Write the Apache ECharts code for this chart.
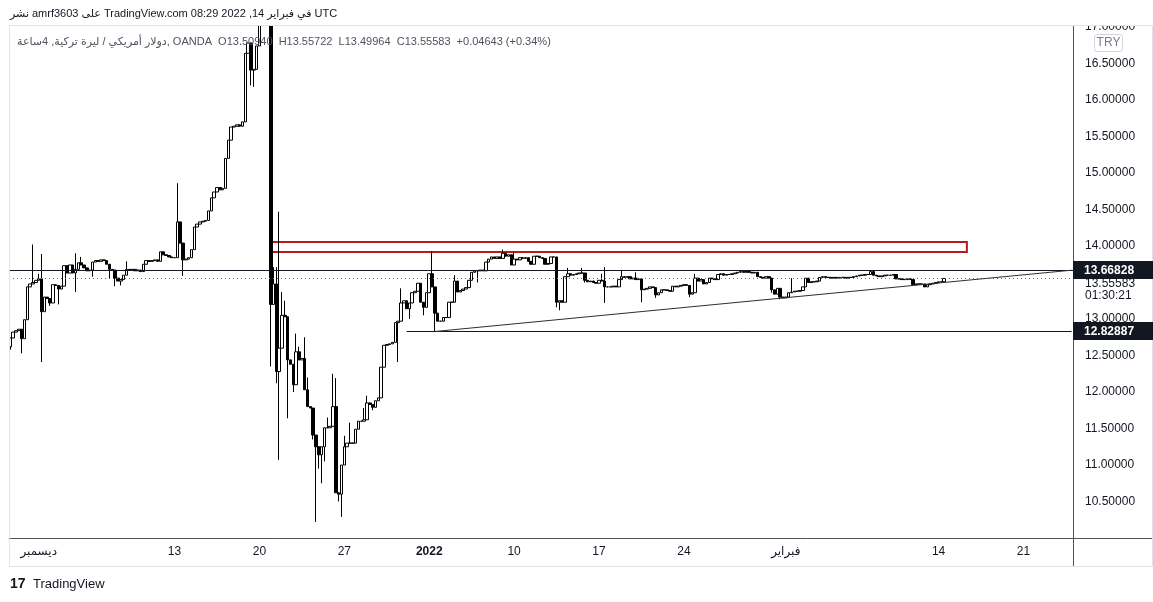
<!DOCTYPE html>
<html><head><meta charset="utf-8">
<script src="https://cdn.jsdelivr.net/npm/echarts@6/dist/echarts.min.js"></script>
<style>html,body{margin:0;padding:0;background:#fff}#c{width:1153px;height:602px}</style>
</head><body><div id="c"></div>
<script>
// ---------- DATA (USD/TRY, OANDA, 4h candles) ----------
const firstOpen = 12.62;
// closes per trading week (4h slots, 6 per weekday); open = previous close
const closesWk0 = [12.74,12.82,12.84,12.86,12.73,12.99,13.44,13.48,13.50,13.53, 13.55,13.10,13.30,13.28,13.22,13.47,13.46,13.41,13.45,13.73, 13.63,13.74,13.63,13.68,13.77,13.74,13.70,13.66];
const closesWk1 = [13.67,13.78,13.80,13.79,13.81,13.80,13.75,13.68,13.67,13.56, 13.52,13.54,13.60,13.68,13.67,13.68,13.66,13.67,13.65,13.75, 13.80,13.79,13.80,13.81,13.79,13.92,13.88,13.87,13.85,13.84];
const closesWk2 = [13.84,14.33,14.04,13.81,13.82,13.84,13.95,14.26,14.30,14.33, 14.34,14.35,14.48,14.66,14.74,14.80,14.77,14.79,15.20,15.45, 15.63,15.64,15.66,15.64,15.70,16.64,16.78,16.41,16.42,16.74];
const closesWk3 = [17.30,17.60,18.00,17.95,13.20,13.48,12.28,12.60,13.05,13.03, 12.44,12.38,12.10,12.55,12.44,12.46,12.03,11.80,11.78,11.41, 11.25,11.14,11.25,11.51,11.51,11.53,11.80,10.62,10.60,11.00];
const closesWk4 = [11.25,11.30,11.30,11.30,11.49,11.60,11.60,11.62,11.85,11.83, 11.79,11.88,11.92,12.34,12.64,12.65,12.66,12.68,12.95,12.97, 13.22,13.25,13.14,13.22,13.36,13.38,13.49,13.23,13.16,13.36];
const closesWk5 = [13.62,13.44,13.08,12.97,12.97,13.02,13.02,13.23,13.23,13.52, 13.37,13.39,13.41,13.43,13.53,13.64,13.66,13.66,13.67,13.66, 13.78,13.82,13.85,13.83,13.85,13.83,13.90,13.86,13.88,13.74];
const closesWk6 = [13.82,13.81,13.84,13.83,13.84,13.79,13.75,13.86,13.86,13.84, 13.83,13.75,13.76,13.85,13.85,13.23,13.25,13.23,13.58,13.62, 13.60,13.61,13.62,13.63,13.63,13.53,13.51,13.52,13.50,13.49];
const closesWk7 = [13.53,13.52,13.44,13.44,13.44,13.45,13.44,13.54,13.58,13.57, 13.58,13.55,13.56,13.54,13.55,13.40,13.41,13.42,13.44,13.43, 13.33,13.36,13.40,13.40,13.39,13.38,13.45,13.44,13.45,13.46];
const closesWk8 = [13.47,13.46,13.34,13.36,13.56,13.52,13.54,13.48,13.50,13.56, 13.55,13.54,13.61,13.62,13.60,13.61,13.61,13.62,13.63,13.64, 13.65,13.64,13.65,13.64,13.63,13.64,13.58,13.57,13.56,13.58];
const closesWk9 = [13.56,13.40,13.34,13.42,13.30,13.29,13.30,13.36,13.37,13.38, 13.38,13.39,13.44,13.56,13.50,13.51,13.51,13.52,13.57,13.58, 13.57,13.57,13.56,13.57,13.56,13.57,13.57,13.56,13.57,13.57];
const closesWk10 = [13.58,13.59,13.60,13.60,13.61,13.61,13.65,13.60,13.59,13.58, 13.59,13.60,13.60,13.60,13.61,13.55,13.55,13.54,13.54,13.55, 13.54,13.47,13.48,13.48,13.48,13.44,13.47,13.48,13.49,13.50];
const closesWk11 = [13.51,13.5094,13.55583];
// wick extremes [candle index, value]
const wickHighs = [[8,14.02],[10,13.62],[11,13.89],[23,13.90],[25,13.85],[41,13.79],[59,14.86],[88,17.45],[89,17.80],[90,18.20],[91,18.36],[92,18.05],
  [93,13.71],[94,13.71],[95,14.47],[96,13.37],[97,13.25],[101,12.80],[102,12.62],[104,12.75],[105,12.20],[112,11.65],[114,12.25],[115,12.19],
  [118,11.40],[120,11.58],[125,11.78],[126,11.95],[138,13.42],[149,13.93],[157,13.60],[174,13.95],[178,13.92],[197,13.70],[202,13.70],
  [209,13.62],[210,13.71],[216,13.67],[221,13.64],[242,13.62],[276,13.56],[330,13.55722]];
const wickLows = [[0,12.58],[4,12.53],[11,12.41],[14,13.18],[17,13.20],[23,13.37],[29,13.58],[35,13.55],[37,13.45],[39,13.46],[61,13.59],
  [85,16.20],[86,16.18],[92,12.35],[94,12.12],[95,11.07],[98,11.64],[100,12.00],[107,11.35],[108,10.22],[109,10.95],[110,10.75],[111,11.05],
  [116,10.50],[117,10.29],[128,11.75],[137,12.41],[141,13.00],[146,13.05],[150,12.82887],[165,13.50],[193,13.16],[194,13.12],[203,13.50],
  [210,13.22],[223,13.23],[228,13.29],[240,13.30],[269,13.36],[272,13.27],[330,13.49964]];
// annotations
const resistanceLevel = 13.66828;
const supportLevel = 12.82887;
const lastPrice = 13.55583;
const zoneTop = 14.055, zoneBottom = 13.918;
const zoneFrom = 92, zoneTo = 338;          // candle indices
const supportFrom = 140, trendFrom = 150;   // candle indices
// axis tick labels: [date, text]
const xTickLabels = [['2021-12-01','ديسمبر'],['2021-12-13','13'],['2021-12-20','20'],['2021-12-27','27'],['2022-01-03','2022'],
  ['2022-01-10','10'],['2022-01-17','17'],['2022-01-24','24'],['2022-02-01','فبراير'],['2022-02-14','14'],['2022-02-21','21']];
const yMin = 10, yMax = 17.0137, yStep = 0.5;
const headerLine = 'نشر amrf3603 على TradingView.com في فبراير 14, 2022 08:29 UTC';
const legendName = 'دولار أمريكي / ليرة تركية, 4ساعة, OANDA';
const legendValues = 'O13.50940  H13.55722  L13.49964  C13.55583  +0.04643 (+0.34%)';
const countdown = '01:30:21';
const currency = 'TRY';

// ---------- BUILD ----------
const pad = n => String(n).padStart(2,'0');
const slots = [];
{
  let t = Date.UTC(2021,10,29,8);
  const end = Date.UTC(2022,1,23,20);
  while (t <= end) {
    const d = new Date(t), wd = d.getUTCDay();
    if (wd >= 1 && wd <= 5) slots.push(d.getUTCFullYear()+'-'+pad(d.getUTCMonth()+1)+'-'+pad(d.getUTCDate())+' '+pad(d.getUTCHours()));
    t += 4*3600e3;
  }
}
const tickMap = {};
xTickLabels.forEach(([d,l]) => tickMap[d+' 00'] = l);
const closes = [].concat(closesWk0,closesWk1,closesWk2,closesWk3,closesWk4,closesWk5,closesWk6,closesWk7,closesWk8,closesWk9,closesWk10,closesWk11);
const hiMap = new Map(wickHighs), loMap = new Map(wickLows);
let prev = firstOpen;
const ohlc = closes.map((c,i) => {
  const o = prev; prev = c;
  const h = hiMap.has(i) ? hiMap.get(i) : Math.max(o,c);
  const l = loMap.has(i) ? loMap.get(i) : Math.min(o,c);
  return [o,c,l,h];
});
const lastIdx = slots.length - 1;

const FONT = '"Liberation Sans", Arial, "DejaVu Sans", sans-serif';
const chart = echarts.init(document.getElementById('c'), null, {renderer:'canvas'});
chart.setOption({
  animation:false,
  backgroundColor:'#ffffff',
  grid:{left:9, right:80, top:26, bottom:64},
  xAxis:{type:'category', data:slots, boundaryGap:true,
    axisLine:{show:true, lineStyle:{color:'#50535e', width:1}},
    axisTick:{show:false}, splitLine:{show:false},
    axisLabel:{interval:(i,v)=>tickMap[v]!==undefined, margin:8, color:'#131722', fontSize:12, fontFamily:FONT,
      formatter:v=>{const l=tickMap[v]||''; return l==='2022'?'{b|2022}':l;}, rich:{b:{fontWeight:'bold', fontSize:12, color:'#131722', fontFamily:FONT}}}},
  yAxis:{type:'value', position:'right', min:yMin, max:yMax, interval:yStep, scale:true,
    axisLine:{show:true, lineStyle:{color:'#50535e', width:1}},
    axisTick:{show:false}, splitLine:{show:false},
    axisLabel:{margin:12, color:'#131722', fontSize:12, fontFamily:FONT,
      formatter:v=>(Math.abs(v-10)<1e-6||Math.abs(v-13.5)<1e-6)?'':v.toFixed(5)}},
  series:[{
    type:'candlestick', data:ohlc, barWidth:3, clip:true,
    itemStyle:{color:'#ffffff', color0:'#000000', borderColor:'#000000', borderColor0:'#000000', borderWidth:1},
    markLine:{silent:true, symbol:['none','none'], label:{show:false}, animation:false,
      data:[
        {yAxis:resistanceLevel, lineStyle:{color:'#131722', width:1, type:'solid'}},
        {yAxis:lastPrice, lineStyle:{color:'#e53935', width:1, type:[1,3]}},
        [{coord:[supportFrom, supportLevel], lineStyle:{color:'#131722', width:1, type:'solid'}},{coord:[lastIdx, supportLevel]}],
        [{coord:[trendFrom, supportLevel], lineStyle:{color:'#2a2e39', width:1, type:'solid'}},{coord:[lastIdx, resistanceLevel]}]
      ]},
    markArea:{silent:true, itemStyle:{color:'rgba(0,0,0,0)', borderColor:'#b71c1c', borderWidth:2},
      data:[[{coord:[zoneFrom, zoneTop]},{coord:[zoneTo, zoneBottom]}]]}
  }]
});

const yPx = v => chart.convertToPixel({yAxisIndex:0}, v);
const priceBox = (v) => ([
  {type:'rect', shape:{x:1073, y:Math.round(yPx(v))-9, width:80, height:18}, style:{fill:'#131722'}, z:100},
  {type:'text', x:1084, y:yPx(v), style:{text:v.toFixed(5), fill:'#ffffff', font:'bold 12px '+FONT, textVerticalAlign:'middle'}, z:101}
]);
chart.setOption({graphic:[
  {type:'rect', shape:{x:0, y:0, width:1153, height:25.5}, style:{fill:'#ffffff'}, z:90},
  {type:'rect', shape:{x:9.5, y:25.5, width:1143, height:541}, style:{fill:'none', stroke:'#e0e3eb', lineWidth:1}, z:91},
  {type:'line', shape:{x1:1073.5, y1:538, x2:1073.5, y2:566}, style:{stroke:'#50535e', lineWidth:1}, z:5},
  {type:'line', shape:{x1:1073, y1:538.5, x2:1153, y2:538.5}, style:{stroke:'#50535e', lineWidth:1}, z:5},
  {type:'text', x:10, y:14, style:{text:headerLine, fill:'#131722', font:'11px '+FONT, textVerticalAlign:'middle'}, z:95},
  {type:'text', x:17, y:42, style:{text:legendName+'  '+legendValues, fill:'#50535e', font:'11px '+FONT, textVerticalAlign:'middle'}, z:95},
  {type:'rect', shape:{x:1094.5, y:34.5, width:28, height:17, r:3}, style:{fill:'#ffffff', stroke:'#d1d4dc', lineWidth:1}, z:95},
  {type:'text', x:1108.5, y:43, style:{text:currency, fill:'#787b86', font:'12px '+FONT, textAlign:'center', textVerticalAlign:'middle'}, z:96},
  ...priceBox(resistanceLevel),
  ...priceBox(supportLevel),
  {type:'rect', shape:{x:1075, y:Math.round(yPx(lastPrice))+2, width:77, height:24}, style:{fill:'#ffffff'}, z:99},
  {type:'text', x:1085, y:yPx(lastPrice)+5, style:{text:lastPrice.toFixed(5), fill:'#131722', font:'12px '+FONT, textVerticalAlign:'middle'}, z:100},
  {type:'text', x:1085, y:yPx(lastPrice)+17, style:{text:countdown, fill:'#131722', font:'12px '+FONT, textVerticalAlign:'middle'}, z:100},
  {type:'text', x:10, y:584, style:{text:'17', fill:'#131722', font:'bold 14px '+FONT, textVerticalAlign:'middle'}, z:100},
  {type:'text', x:33, y:584, style:{text:'TradingView', fill:'#131722', font:'13px '+FONT, textVerticalAlign:'middle'}, z:100}
]});
</script></body></html>
